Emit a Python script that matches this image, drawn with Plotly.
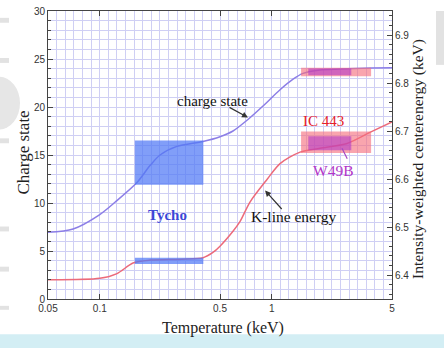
import math
import plotly.graph_objects as go

# ---------------- data ----------------
temperature_charge = [0.05, 0.07, 0.1, 0.123, 0.164, 0.196, 0.224, 0.281, 0.398,
                      0.5, 0.595, 0.727, 0.889, 1.117, 1.33, 1.52, 1.91, 2.5, 3.72, 5.0]
charge_state = [6.95, 7.3, 8.8, 10.1, 12.1, 13.9, 15.0, 15.9, 16.4,
                16.9, 17.5, 18.7, 20.1, 21.8, 22.9, 23.5, 23.85, 23.95, 24.05, 24.1]

temperature_kline = [0.05, 0.1, 0.126, 0.156, 0.196, 0.3, 0.398, 0.455, 0.5,
                     0.595, 0.653, 0.747, 0.938, 1.117, 1.46, 1.91, 2.74, 3.72, 5.0]
kline_energy = [6.390, 6.393, 6.403, 6.425, 6.431, 6.433, 6.436, 6.447, 6.460,
                6.491, 6.511, 6.552, 6.599, 6.632, 6.656, 6.664, 6.674, 6.697, 6.719]

# observed remnants: temperature range, charge-state range, energy range
tycho_T = [0.16, 0.40]
tycho_charge = [11.9, 16.5]
tycho_energy = [6.423, 6.436]

ic443_T = [1.48, 3.78]
ic443_charge = [23.2, 24.1]
ic443_energy = [6.654, 6.699]

w49b_T = [1.63, 2.90]
w49b_charge = [23.3, 24.0]
w49b_energy = [6.660, 6.689]

x_tick_vals = [0.05, 0.1, 0.5, 1, 5]
x_tick_text = ["0.05", "0.1", "0.5", "1", "5"]
x_minor_ticks = [0.06, 0.07, 0.08, 0.09, 0.2, 0.3, 0.4, 0.6, 0.7, 0.8, 0.9,
                 2, 3, 4]
y_tick_vals = [0, 5, 10, 15, 20, 25, 30]
y2_tick_vals = [6.4, 6.5, 6.6, 6.7, 6.8, 6.9]

# ---------------- styling ----------------
SERIF = "Liberation Serif, Times New Roman, serif"
SANS = "Liberation Sans, Arial, sans-serif"
GRID = "#cfcff4"
AX = "#444444"

fig = go.Figure()

fig.add_trace(go.Scatter(x=temperature_charge, y=charge_state, mode="lines",
                         line=dict(color="#8c7ee6", width=1.5, shape="spline", smoothing=0.8),
                         hoverinfo="skip"))
fig.add_trace(go.Scatter(x=temperature_kline, y=kline_energy, mode="lines", yaxis="y2",
                         line=dict(color="#ec6a7a", width=1.5, shape="spline", smoothing=0.8),
                         hoverinfo="skip"))


def rect(xr, yr, color, yaxis="y"):
    fig.add_trace(go.Scatter(
        x=[xr[0], xr[1], xr[1], xr[0], xr[0]],
        y=[yr[0], yr[0], yr[1], yr[1], yr[0]],
        mode="lines", fill="toself", fillcolor=color,
        line=dict(width=0, color=color), yaxis=yaxis, hoverinfo="skip"))


rect(tycho_T, tycho_charge, "rgba(80,120,245,0.72)")
rect(tycho_T, tycho_energy, "rgba(80,120,245,0.72)", "y2")
rect(ic443_T, ic443_charge, "rgba(246,110,125,0.62)")
rect(ic443_T, ic443_energy, "rgba(246,110,125,0.62)", "y2")
rect(w49b_T, w49b_charge, "rgba(175,50,200,0.55)")
rect(w49b_T, w49b_energy, "rgba(175,50,200,0.55)", "y2")

# uniform vertical grid (1/20 decade)
x_grid = [0.05 * 10 ** (k * 0.05) for k in range(41)]

Y_TOP = 30.0
fig.update_layout(
    width=444, height=349,
    margin=dict(l=48, r=52, t=5, b=50),
    paper_bgcolor="white", plot_bgcolor="white",
    showlegend=False,
    xaxis=dict(type="log", range=[math.log10(0.05), math.log10(5)],
               tickvals=x_tick_vals, ticktext=x_tick_text,
               ticks="inside", ticklen=5, tickcolor=AX,
               showline=True, linecolor=AX, linewidth=1, mirror="ticks",
               showgrid=True, gridcolor=GRID, gridwidth=1, zeroline=False,
               ticklabeloverflow="allow",
               tickfont=dict(family=SANS, size=10, color="#333"),
               minor=dict(tickmode="array", tickvals=x_grid, showgrid=True,
                          gridcolor=GRID, gridwidth=1, ticks="")),
    xaxis2=dict(type="log", range=[math.log10(0.05), math.log10(5)],
                overlaying="x", anchor="y", side="bottom",
                tickvals=x_minor_ticks, showticklabels=False,
                ticks="inside", ticklen=3, tickcolor=AX, mirror="ticks",
                showgrid=False, showline=False, zeroline=False),
    yaxis=dict(range=[0, Y_TOP], tickvals=y_tick_vals,
               ticks="inside", ticklen=5, tickcolor=AX,
               showline=True, linecolor=AX, linewidth=1,
               showgrid=True, gridcolor=GRID, zeroline=False,
               ticklabeloverflow="allow",
               tickfont=dict(family=SANS, size=10, color="#333"),
               minor=dict(dtick=1, showgrid=True, gridcolor=GRID,
                          ticks="inside", ticklen=3, tickcolor=AX)),
    yaxis2=dict(range=[6.35, 6.35 + Y_TOP * 0.02], tickvals=y2_tick_vals, overlaying="y",
                side="right", anchor="x",
                ticks="inside", ticklen=5, tickcolor=AX,
                showline=True, linecolor=AX, linewidth=1,
                showgrid=False, zeroline=False,
                ticklabeloverflow="allow",
                tickfont=dict(family=SANS, size=10, color="#333"),
                minor=dict(dtick=0.02, ticks="inside", ticklen=3, tickcolor=AX,
                           showgrid=False)),
)


def px2paper(px, py):
    return (px - 48) / 344.0, (299 - py) / 294.0


# decorative background elements (light blue strip, faint watermark)
shapes = []
x0, y0 = px2paper(0, 335)
x1, y1 = px2paper(444, 349)
shapes.append(dict(type="rect", xref="paper", yref="paper", x0=x0, y0=y0, x1=x1, y1=y1,
                   fillcolor="#d3eef4", line=dict(width=0), layer="below"))
for (a, b, c, d) in [(0, 12, 9, 17), (0, 53, 9, 58), (0, 135, 9, 140), (0, 225, 9, 230),
                     (0, 266, 9, 271), (0, 306, 9, 310), (436, 5, 444, 60)]:
    xa, ya = px2paper(a, b)
    xb, yb = px2paper(c, d)
    shapes.append(dict(type="rect", xref="paper", yref="paper", x0=xa, y0=ya, x1=xb, y1=yb,
                       fillcolor="#e2e2e2", line=dict(width=0), layer="below"))
xa, ya = px2paper(-22, 72)
xb, yb = px2paper(20, 126)
shapes.append(dict(type="circle", xref="paper", yref="paper", x0=xa, y0=ya, x1=xb, y1=yb,
                   fillcolor="#e6e6e6", line=dict(width=0), layer="below"))
fig.update_layout(shapes=shapes)

L = math.log10
ann = []
# axis titles
ann.append(dict(text="Charge state", xref="paper", yref="paper",
                x=px2paper(12, 0)[0], y=px2paper(0, 150)[1], textangle=-90, showarrow=False,
                font=dict(family=SERIF, size=17, color="#222")))
ann.append(dict(text="Temperature (keV)", xref="paper", yref="paper",
                x=px2paper(223, 0)[0], y=px2paper(0, 318)[1], yanchor="top", borderpad=0,
                showarrow=False,
                font=dict(family=SERIF, size=16, color="#222")))
ann.append(dict(text="Intensity-weighted centerenergy (keV)", xref="paper", yref="paper",
                x=px2paper(429, 0)[0], y=px2paper(0, 156)[1], textangle=-90, showarrow=False,
                font=dict(family=SERIF, size=15.5, color="#222")))
# labels
ann.append(dict(text="charge state", x=L(0.455), y=20.6, xref="x", yref="y", showarrow=False,
                font=dict(family=SERIF, size=15, color="#111")))
ann.append(dict(text="", x=L(0.727), y=18.9, xref="x", yref="y", showarrow=True,
                ax=-20, ay=-11, arrowhead=2, arrowsize=1, arrowwidth=1.2, arrowcolor="#333"))
ann.append(dict(text="K-line energy", x=L(1.35), y=8.6, xref="x", yref="y", showarrow=False,
                font=dict(family=SERIF, size=15.5, color="#111")))
ann.append(dict(text="", x=L(0.914), y=11.3, xref="x", yref="y", showarrow=True,
                ax=18, ay=20, arrowhead=2, arrowsize=1, arrowwidth=1.2, arrowcolor="#333"))
ann.append(dict(text="<b>Tycho</b>", x=L(0.249), y=8.8, xref="x", yref="y", showarrow=False,
                font=dict(family=SERIF, size=15, color="#3a46d6")))
ann.append(dict(text="IC 443", x=L(2.01), y=18.5, xref="x", yref="y", showarrow=False,
                font=dict(family=SERIF, size=15, color="#e5202a")))
ann.append(dict(text="W49B", x=L(2.27), y=13.4, xref="x", yref="y", showarrow=False,
                font=dict(family=SERIF, size=15.5, color="#b234c8")))
ann.append(dict(text="", x=L(2.56), y=15.7, xref="x", yref="y", showarrow=True,
                ax=6, ay=12, arrowhead=0, arrowwidth=1.2, arrowcolor="#a848c4"))
fig.update_layout(annotations=ann)

fig.write_html("out.html", config={"displayModeBar": False},
               post_script="document.body.style.margin='0';document.body.style.padding='0';")
